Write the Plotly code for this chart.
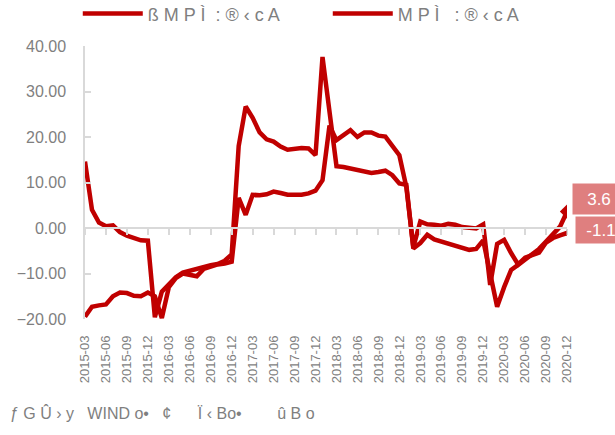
import plotly.graph_objects as go

# ---- data ----
months = [f"{y}-{m:02d}" for y in range(2015, 2021) for m in range(1, 13)][2:]
series1_name = "ß M P Ì  : ® ‹ c A"
series2_name = "M P Ì   : ® ‹ c A"
series1 = [14.6, 4.0, 1.2, 0.4, 0.6, -0.9, -1.7, -2.2, -2.7, -2.8,
           -19.6, -14.0, -12.3, -10.8, -9.8, -9.4, -9.0, -8.4, -8.2, -7.9,
           -7.2, -5.8, 18.0, 26.7, 24.2, 21.0, 19.5, 19.0, 17.9, 17.2,
           17.5, 17.6, 17.5, 16.0, 37.6, 25.0, 13.6, 13.4, 13.1, 12.8,
           12.4, 12.1, 12.3, 12.6, 11.6, 9.8, 9.5, -4.5, -3.3, -1.5,
           -2.5, -3.0, -3.5, -3.8, -4.3, -4.8, -4.6, -2.7, -10.0, -17.3,
           -13.0, -9.2, -8.1, -7.0, -5.8, -4.6, -3.0, -1.5, 0.3, 3.6]
series2 = [-19.5, -17.3, -17.0, -16.8, -15.0, -14.2, -14.3, -14.9, -15.0, -14.2,
           -15.0, -19.8, -13.0, -11.0, -10.0, -10.3, -10.6, -9.0, -8.5, -8.0,
           -7.8, -7.4, 6.6, 2.9, 7.3, 7.2, 7.4, 8.0, 7.7, 7.3,
           7.3, 7.3, 7.6, 8.2, 10.5, 22.5, 19.3, 20.4, 21.5, 20.0,
           21.0, 21.0, 20.3, 20.1, 18.2, 16.0, 9.0, -4.2, 1.4, 0.8,
           0.7, 0.5, 0.9, 0.7, 0.2, 0.0, -0.1, 0.8, -12.5, -3.5,
           -2.6, -5.5, -8.0, -6.5, -6.0, -5.4, -3.2, -2.2, -1.6, -1.1]
y_ticks = [-20, -10, 0, 10, 20, 30, 40]
x_tick_labels = months[::3]
source_note = "ƒ G Û › y   WIND o•   ¢      Ï ‹ Bo•        û B o"

RED = "#C00000"
GRAY = "#7f7f7f"
LIGHT = "#d9d9d9"
FONT = "Liberation Sans, Arial, sans-serif"
n = len(months)

fig = go.Figure()
fig.add_trace(go.Scatter(x=months, y=series1, mode="lines", name=series1_name,
                         line=dict(color=RED, width=4.5)))
fig.add_trace(go.Scatter(x=months, y=series2, mode="lines", name=series2_name,
                         line=dict(color=RED, width=4.5)))
fig.add_trace(go.Scatter(x=[months[-1]], y=[series1[-1]], mode="markers",
                         marker=dict(symbol="diamond", size=11, color=RED),
                         showlegend=False, hoverinfo="skip"))
# invisible trace on the helper axis that draws the zero line with tick marks
fig.add_trace(go.Scatter(x=[], y=[], xaxis="x2", showlegend=False))

fig.update_layout(
    width=615, height=435,
    margin=dict(l=85, r=48, t=46, b=116, autoexpand=False),
    paper_bgcolor="white", plot_bgcolor="white",
    font=dict(family=FONT, color=GRAY),
    showlegend=True,
    legend=dict(orientation="h", x=-0.015, xanchor="left", y=1.118, yanchor="middle",
                font=dict(size=18, color=GRAY, family=FONT),
                itemwidth=60, entrywidth=175, entrywidthmode="pixels",
                tracegroupgap=0, bgcolor="rgba(0,0,0,0)"),
    xaxis=dict(type="category", range=[0, n - 1], showgrid=False, zeroline=False,
               showline=False, ticks="", tickmode="array",
               tickvals=x_tick_labels, ticktext=x_tick_labels, tickangle=-90,
               tickfont=dict(size=13, color=GRAY, family=FONT),
               ticklabelstandoff=13),
    xaxis2=dict(overlaying="x", anchor="free", position=1 / 3, range=[0, n - 1],
                showgrid=False, zeroline=False, showline=True, linecolor=LIGHT,
                linewidth=1.5, ticks="outside", ticklen=6, tickcolor=LIGHT,
                tickwidth=1.5, tick0=0, dtick=3, showticklabels=False),
    yaxis=dict(range=[-20, 40], tickmode="array", tickvals=y_ticks,
               tickformat=".2f", showgrid=False, zeroline=False,
               showline=True, linecolor=LIGHT, linewidth=1.5,
               ticks="inside", ticklen=6, tickcolor=LIGHT, tickwidth=1.5,
               tickfont=dict(size=16, color=GRAY, family=FONT),
               ticklabelstandoff=14),
)

# end-value labels
fig.add_annotation(x=n - 1, y=series1[-1], xref="x", yref="y",
                   text=f"{series1[-1]:.1f}", showarrow=False,
                   xanchor="left", xshift=5, yshift=13, width=44, height=22,
                   bgcolor="rgba(192,0,0,0.5)", borderpad=4,
                   font=dict(size=17, color="white", family=FONT))
fig.add_annotation(x=n - 1, y=series2[-1], xref="x", yref="y",
                   text=f"{series2[-1]:.1f}", showarrow=False,
                   xanchor="left", xshift=8, yshift=3, width=42, height=18,
                   bgcolor="rgba(192,0,0,0.5)", borderpad=4,
                   font=dict(size=17, color="white", family=FONT))
fig.add_shape(type="path", xref="x", yref="y", xsizemode="pixel", ysizemode="pixel",
              xanchor=n - 1, yanchor=series2[-1],
              path="M -4,0 L 8,-8 L 8,8 Z", fillcolor="rgba(192,0,0,0.5)",
              line=dict(width=0))
fig.add_shape(type="line", xref="x", yref="y", xsizemode="pixel", ysizemode="pixel",
              xanchor=n - 1, yanchor=series1[-1], x0=5, x1=60, y0=-2, y1=-2,
              line=dict(color=RED, width=2))

fig.add_annotation(x=-0.16, y=-0.345, xref="paper", yref="paper",
                   text=source_note, showarrow=False, xanchor="left", yanchor="middle",
                   font=dict(size=16, color=GRAY, family=FONT))

# remove the browser's default 8px body margin so the figure sits at (0,0)
fig.write_html("out.html", config={"displayModeBar": False},
               post_script="document.body.style.margin='0';")
